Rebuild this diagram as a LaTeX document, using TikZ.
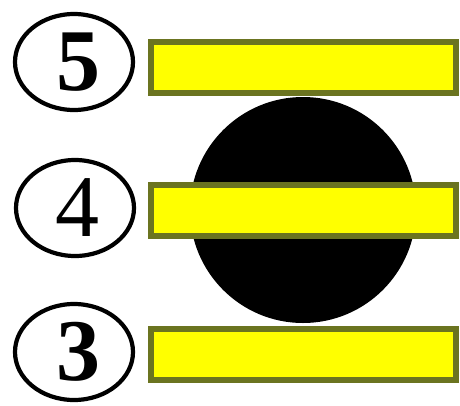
\documentclass[tikz,border=0pt]{standalone}
\usepackage{fontspec}
\setmainfont{Liberation Serif}
\usetikzlibrary{shapes.geometric}
\definecolor{olivebd}{RGB}{107,116,32}
\definecolor{baryellow}{RGB}{255,255,0}
\tikzset{
  num/.style={draw=black, line width=4.2pt, ellipse, inner sep=0pt, minimum width=118pt, minimum height=96pt, font=\fontsize{88}{88}\selectfont},
  bar/.style={draw=olivebd, fill=baryellow, line width=6pt, rectangle, inner sep=0pt, minimum width=305pt, minimum height=51pt},
}
\begin{document}
\begin{tikzpicture}[x=1pt,y=-1pt]
\useasboundingbox (0,0) rectangle (460,405);
\fill[white] (0,0) rectangle (460,405);
\node[circle, fill=black, minimum size=226pt, inner sep=0pt] (ball) at (303,210) {};
\node[num] (e5) at (74,62) {\hspace{8pt}\textbf{5}};
\node[num] (e4) at (75,208) {\hspace{4pt}4};
\node[num] (e3) at (74,352) {\hspace{8pt}\textbf{3}};
\node[bar] (b5) at (303.5,67.5) {};
\node[bar] (b4) at (303.5,210.5) {};
\node[bar] (b3) at (303.5,354.5) {};
\end{tikzpicture}
\end{document}
